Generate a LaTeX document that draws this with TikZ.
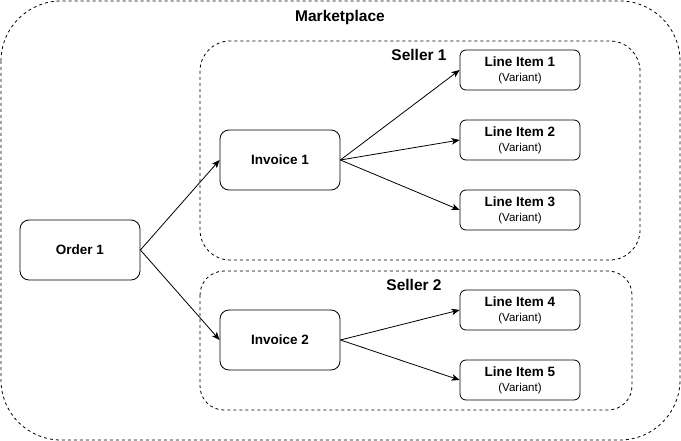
\documentclass[tikz,border=0pt]{standalone}
\usepackage{fontspec}
\setmainfont{Liberation Sans}
\usetikzlibrary{arrows.meta}

\begin{document}
\begin{tikzpicture}[x=1pt, y=-1pt, line width=0.8pt,
		box/.style = {draw, rounded corners=9pt, minimum width=120pt, minimum height=60pt, inner sep=0pt, font=\fontsize{13.5}{16}\selectfont\bfseries},
		itembox/.style = {draw, rounded corners=6pt, minimum width=120pt, minimum height=40pt, inner sep=0pt, align=center, font=\fontsize{13.5}{15}\selectfont\bfseries},
		group/.style = {draw, dashed},
		lbl/.style = {font=\fontsize{15.5}{18}\selectfont\bfseries},
		conn/.style = {-{Stealth[length=8pt, width=6.5pt, inset=2pt]}}]
				\useasboundingbox (0,0) rectangle (681,441);
				\draw [group, rounded corners=60pt] (1,1) rectangle (680,440);
				\node [lbl] (market) at (340,17){Marketplace};
				\draw [group, rounded corners=30pt] (200,41) rectangle (640,260);
				\node [lbl] (seller1) at (419,55){Seller 1};
				\draw [group, rounded corners=24pt] (200,271) rectangle (632,410);
				\node [lbl] (seller2) at (414,285){Seller 2};
				\node [box] (ord1) at (80,250){Order 1};
				\node [box] (inv1) at (280,160){Invoice 1};
				\node [box] (inv2) at (280,340){Invoice 2};
				\node [itembox] (li1) at (520,70){Line Item 1\\{\fontsize{11.5}{14}\selectfont\mdseries (Variant)}};
				\node [itembox] (li2) at (520,140){Line Item 2\\{\fontsize{11.5}{14}\selectfont\mdseries (Variant)}};
				\node [itembox] (li3) at (520,210){Line Item 3\\{\fontsize{11.5}{14}\selectfont\mdseries (Variant)}};
				\node [itembox] (li4) at (520,310){Line Item 4\\{\fontsize{11.5}{14}\selectfont\mdseries (Variant)}};
				\node [itembox] (li5) at (520,380){Line Item 5\\{\fontsize{11.5}{14}\selectfont\mdseries (Variant)}};
				\draw [conn] (ord1.east) -- (inv1.west);
				\draw [conn] (ord1.east) -- (inv2.west);
				\draw [conn] (inv1.east) -- (li1.west);
				\draw [conn] (inv1.east) -- (li2.west);
				\draw [conn] (inv1.east) -- (li3.west);
				\draw [conn] (inv2.east) -- (li4.west);
				\draw [conn] (inv2.east) -- (li5.west);
		\end{tikzpicture}
\end{document}
